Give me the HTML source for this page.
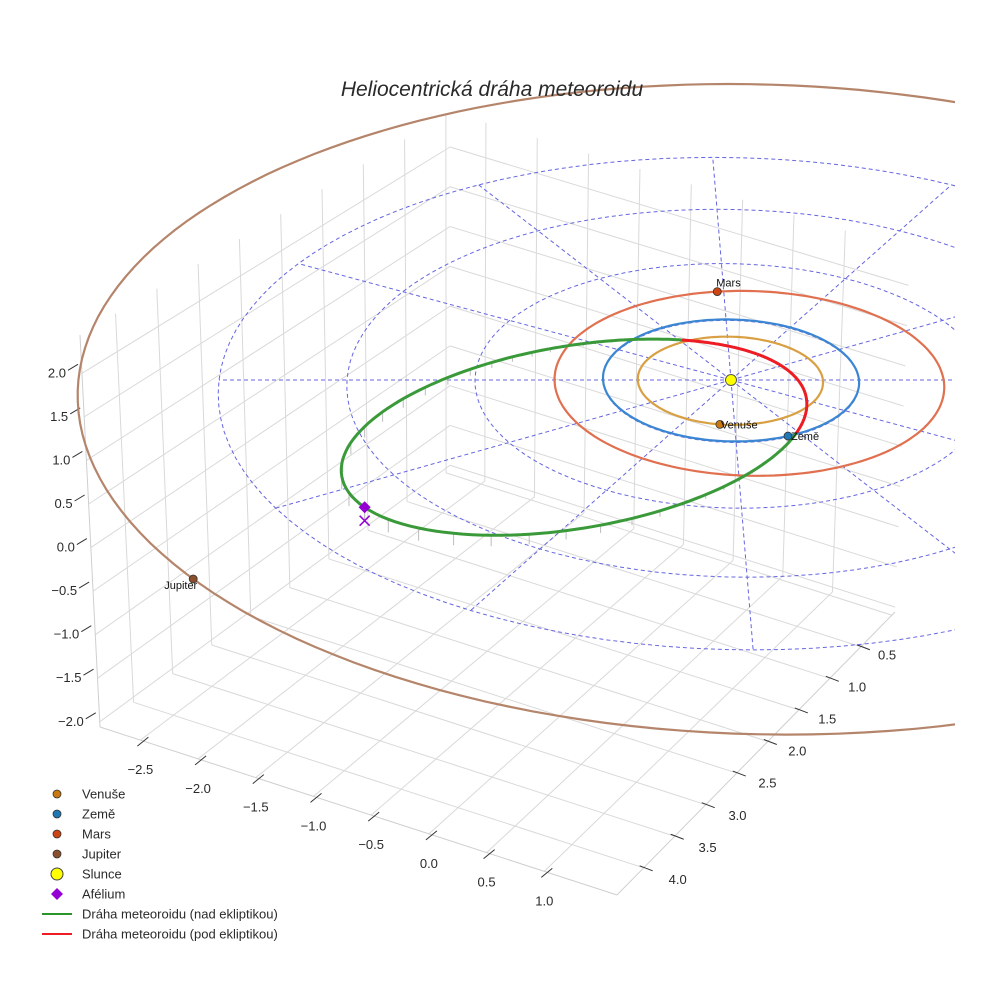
<!DOCTYPE html>
<html><head><meta charset="utf-8"><style>
html,body{margin:0;padding:0;background:#fff;}
svg{display:block;font-family:"Liberation Sans",sans-serif;}
</style></head><body>
<svg id="c" width="984" height="984" viewBox="0 0 984 984">
<rect width="984" height="984" fill="#fff"/>
<defs><clipPath id="clip"><rect x="0" y="0" width="955" height="984"/></clipPath></defs>
<g id="box"></g>
<g id="scene" clip-path="url(#clip)"></g>
<text x="492" y="96" text-anchor="middle" font-size="21" font-style="italic" fill="#2a2a2a">Heliocentrická dráha meteoroidu</text>
<g id="legend"></g>
</svg>
<script>
// ---- data ----
const xTicks = [0.5, 1.0, 1.5, 2.0, 2.5, 3.0, 3.5, 4.0];
const yTicks = [-2.5, -2.0, -1.5, -1.0, -0.5, 0.0, 0.5, 1.0];
const zTicks = [-2.0, -1.5, -1.0, -0.5, 0.0, 0.5, 1.0, 1.5, 2.0];
const planetNames = ["Venuše", "Země", "Mars", "Jupiter"];
const planetA = [0.723, 1.0, 1.52, 5.3];
const planetE = [0.007, 0.017, 0.093, 0.052];
const planetPeri = [0, 90, 180, 135];
const planetAngle = [99, 66, 268, 143];
const orbitColors = ["#d9a043", "#3b86d2", "#e0704f", "#b5856b"];
const markerColors = ["#c8780f", "#1f77b4", "#cc4513", "#8c4f2e"];
const ringRadii = [1, 2, 3, 4];
const radialAngles = [0, 30, 60, 90, 120, 150, 180, 210, 240, 270, 300, 330];
const meteorA = [2.017];
const meteorE = [0.76];
const meteorPeri = [-38];
const meteorArgPeri = [-100];
const meteorInc = [2.6];

const NS = "http://www.w3.org/2000/svg";
function mk(tag, attrs, parent) {
  const el = document.createElementNS(NS, tag);
  for (const k in attrs) el.setAttribute(k, attrs[k]);
  parent.appendChild(el);
  return el;
}
// ---- box axes ----
const xr = [-0.05, 4.43], yr = [-2.85, 1.63], zr = [-2.06, 2.44];
const L = [100, 727], F = [617, 895], R = [895, 612], B = [450, 470];
const Lt = [80, 335], Ft = [600, 500], Rt = [910, 250], Bt = [450, 112];
function bil(P, u, v) {
  return [(1-u)*(1-v)*P[0][0] + u*(1-v)*P[1][0] + u*v*P[2][0] + (1-u)*v*P[3][0],
          (1-u)*(1-v)*P[0][1] + u*(1-v)*P[1][1] + u*v*P[2][1] + (1-u)*v*P[3][1]];
}
function boxPt(x, y, z) {
  const u = (y - yr[0]) / (yr[1] - yr[0]);
  const v = (xr[1] - x) / (xr[1] - xr[0]);
  const w = (z - zr[0]) / (zr[1] - zr[0]);
  const a = bil([L, F, R, B], u, v), b = bil([Lt, Ft, Rt, Bt], u, v);
  return [a[0] + (b[0] - a[0]) * w, a[1] + (b[1] - a[1]) * w];
}
const box = document.getElementById("box");
function gl(p, q, name, col) {
  const el = mk("line", {x1: p[0], y1: p[1], x2: q[0], y2: q[1], stroke: col || "#d9d9d9", "stroke-width": 1}, box);
  
  
}
const xGrid = [0, 0.5, 1, 1.5, 2, 2.5, 3, 3.5, 4];
xGrid.forEach(x => {
  gl(boxPt(x, yr[0], zr[0]), boxPt(x, yr[1], zr[0]), "floor-gridline-x");
  gl(boxPt(x, yr[0], zr[0]), boxPt(x, yr[0], zr[1]), "wall-gridline-x");
});
yTicks.forEach(y => {
  gl(boxPt(xr[1], y, zr[0]), boxPt(xr[0], y, zr[0]), "floor-gridline-y");
  gl(boxPt(xr[0], y, zr[0]), boxPt(xr[0], y, zr[1]), "wall-gridline-y");
});
zTicks.forEach(z => {
  gl(boxPt(xr[1], yr[0], z), boxPt(xr[0], yr[0], z), "wall-gridline-z");
  gl(boxPt(xr[0], yr[0], z), boxPt(xr[0], yr[1], z), "wall-gridline-z");
});
gl(boxPt(xr[1], yr[0], zr[0]), boxPt(xr[1], yr[1], zr[0]), "y-axis-line", "#cfcfcf");
gl(boxPt(xr[1], yr[1], zr[0]), boxPt(xr[0], yr[1], zr[0]), "x-axis-line", "#cfcfcf");
gl(boxPt(xr[1], yr[0], zr[0]), boxPt(xr[1], yr[0], zr[1]), "z-axis-line", "#cfcfcf");
function tlab(x, y, s, anchor, name) {
  const t = mk("text", {x: x, y: y, "font-size": 13, fill: "#2a2a2a", "text-anchor": anchor}, box);
  t.textContent = s;
  
  
}
const fmt = v => (v < 0 ? "\u2212" : "") + Math.abs(v).toFixed(1);
yTicks.forEach(y => {
  const p = boxPt(xr[1], y, zr[0]);
  gl([p[0] + 8, p[1] - 3], [p[0] - 3, p[1] + 6], "y-tick", "#333");
  tlab(p[0], p[1] + 34, fmt(y), "middle", "y-tick-label");
});
xTicks.forEach(x => {
  const p = boxPt(x, yr[1], zr[0]);
  const v = (xr[1] - x) / (xr[1] - xr[0]);
  const ox = 34 - (v - 0.096) * 10, oy = 16 - (v - 0.096) * 4;
  gl([p[0] - 4, p[1] - 2], [p[0] + 9, p[1] + 3], "x-tick", "#333");
  tlab(p[0] + ox, p[1] + oy, fmt(x), "middle", "x-tick-label");
});
zTicks.forEach(z => {
  const p = boxPt(xr[1], yr[0], z);
  gl([p[0] - 4, p[1] - 9], [p[0] - 14, p[1] - 3], "z-tick", "#333");
  tlab(p[0] - 16, p[1] + 4, fmt(z), "end", "z-tick-label");
});
// ---- ecliptic projection ----
function proj(X, Y, Z) {
  const k = 1 / (1 - 0.024 * X);
  return [731 + (128 * Y + 5 * X) * k, 380 + 61 * X * k - 80 * Z * k];
}
const scene = document.getElementById("scene");
function pathFrom(pts) { return pts.map((p, i) => (i ? "L" : "M") + p[0].toFixed(1) + "," + p[1].toFixed(1)).join(""); }
ringRadii.forEach(r => {
  const pts = [];
  for (let d = 0; d <= 360; d += 3) { const a = d * Math.PI / 180; pts.push(proj(r * Math.sin(a), r * Math.cos(a), 0)); }
  const el = mk("path", {d: pathFrom(pts), fill: "none", stroke: "#6565e0", "stroke-width": 1, "stroke-dasharray": "4,3"}, scene);
  
  
});
radialAngles.forEach(d => {
  const a = d * Math.PI / 180, r = ringRadii[ringRadii.length - 1];
  const p = proj(0, 0, 0), q = proj(r * Math.sin(a), r * Math.cos(a), 0);
  const el = mk("line", {x1: p[0], y1: p[1], x2: q[0], y2: q[1], stroke: "#6565e0", "stroke-width": 1, "stroke-dasharray": "4,3"}, scene);
  
  
});
function rOf(a, e, phi, peri) { return a * (1 - e * e) / (1 + e * Math.cos((phi - peri) * Math.PI / 180)); }
planetNames.forEach((n, i) => {
  const pts = [];
  for (let d = 0; d <= 360; d += 2) { const r = rOf(planetA[i], planetE[i], d, planetPeri[i]); const a = d * Math.PI / 180; pts.push(proj(r * Math.sin(a), r * Math.cos(a), 0)); }
  const el = mk("path", {d: pathFrom(pts), fill: "none", stroke: orbitColors[i], "stroke-width": 2.2}, scene);
  
  
});
// meteoroid orbit
const inc = meteorInc[0] * Math.PI / 180;
function meteorPos(nu) {
  const phi = nu + meteorPeri[0];
  const r = rOf(meteorA[0], meteorE[0], phi, meteorPeri[0]);
  const a = phi * Math.PI / 180;
  return [r * Math.sin(a), r * Math.cos(a), r * Math.sin(inc) * Math.sin((nu + meteorArgPeri[0]) * Math.PI / 180)];
}
const segs = []; let cur = null, curSign = null;
const drops = [];
for (let nu = -180; nu <= 180; nu += 1) {
  const m = meteorPos(nu);
  const s = m[2] >= 0;
  const p = proj(m[0], m[1], m[2]);
  if (s !== curSign) { if (cur) cur.pts.push(p); cur = {pos: s, pts: []}; segs.push(cur); curSign = s; }
  cur.pts.push(p);
  if (m[2] > 0.02 && nu % 4 === 0) drops.push([p, proj(m[0], m[1], 0)]);
}
drops.forEach(d => {
  const el = mk("line", {x1: d[0][0], y1: d[0][1], x2: d[1][0], y2: d[1][1], stroke: "#bdbdbd", "stroke-width": 1}, scene);
  
  
});
segs.forEach(sg => {
  const el = mk("path", {d: pathFrom(sg.pts), fill: "none", stroke: sg.pos ? "#3a9a3a" : "#ee1c24", "stroke-width": 3, "stroke-linecap": "round"}, scene);
  
  
});
{
  const m = meteorPos(180);
  const p = proj(m[0], m[1], m[2]), q = proj(m[0], m[1], 0);
  const dm = mk("path", {d: `M${p[0]},${p[1]-6}L${p[0]+6},${p[1]}L${p[0]},${p[1]+6}L${p[0]-6},${p[1]}Z`, fill: "#9400d3"}, scene);
  
  
  const xm = mk("path", {d: `M${q[0]-5},${q[1]-5}L${q[0]+5},${q[1]+5}M${q[0]+5},${q[1]-5}L${q[0]-5},${q[1]+5}`, stroke: "#9400d3", "stroke-width": 1.5}, scene);
  
  
}
{
  const p = proj(0, 0, 0);
  const s = mk("circle", {cx: p[0], cy: p[1], r: 5.5, fill: "#ffff00", stroke: "#555", "stroke-width": 1}, scene);
  
  
}
const labelOff = [[1, 4], [3, 4], [-1, -5], [-29, 10]];
planetNames.forEach((n, i) => {
  const d = planetAngle[i];
  const r = rOf(planetA[i], planetE[i], d, planetPeri[i]);
  const a = d * Math.PI / 180;
  const p = proj(r * Math.sin(a), r * Math.cos(a), 0);
  const c = mk("circle", {cx: p[0], cy: p[1], r: 4, fill: markerColors[i], stroke: "#333", "stroke-width": 0.8}, scene);
  
  
  const t = mk("text", {x: p[0] + labelOff[i][0], y: p[1] + labelOff[i][1], "font-size": 11, fill: "#111"}, scene);
  t.textContent = n;
  
  
});
const lg = document.getElementById("legend");
const legendNames = ["Venuše", "Země", "Mars", "Jupiter", "Slunce", "Afélium", "Dráha meteoroidu (nad ekliptikou)", "Dráha meteoroidu (pod ekliptikou)"];
legendNames.forEach((n, i) => {
  const y = 794 + i * 20;
  let sym;
  if (i < 4) sym = mk("circle", {cx: 57, cy: y, r: 4, fill: markerColors[i], stroke: "#333", "stroke-width": 0.8}, lg);
  else if (i === 4) sym = mk("circle", {cx: 57, cy: y, r: 6, fill: "#ffff00", stroke: "#444", "stroke-width": 1}, lg);
  else if (i === 5) sym = mk("path", {d: `M57,${y-6}L63,${y}L57,${y+6}L51,${y}Z`, fill: "#9400d3"}, lg);
  else sym = mk("line", {x1: 42, y1: y, x2: 72, y2: y, stroke: i === 6 ? "#2a952a" : "#ee1c24", "stroke-width": 2}, lg);
  
  
  const t = mk("text", {x: 82, y: y + 4.5, "font-size": 13, fill: "#2a2a2a"}, lg);
  t.textContent = n;
  
  
});
</script>
</body></html>
